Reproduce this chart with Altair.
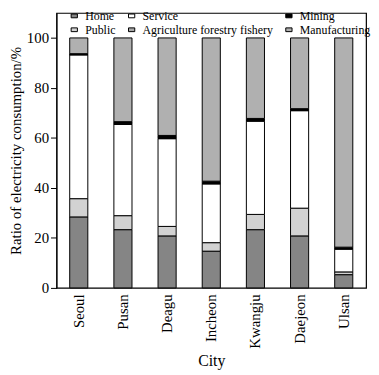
import altair as alt
import pandas as pd

cities = ["Seoul", "Pusan", "Deagu", "Incheon", "Kwangju", "Daejeon", "Ulsan"]
sectors = ["Home", "Public", "Service", "Agriculture forestry fishery", "Mining", "Manufacturing"]

home = [28.4, 23.3, 20.8, 14.7, 23.3, 20.8, 5.3]
public = [7.3, 5.6, 3.8, 3.4, 6.1, 11.1, 1.1]
service = [57.5, 36.5, 35.1, 23.5, 37.3, 39.0, 9.1]
agriculture = [0.2, 0.2, 0.2, 0.2, 0.2, 0.2, 0.2]
mining = [0.3, 0.9, 1.1, 0.9, 0.9, 0.6, 0.6]
manufacturing = [6.3, 33.5, 39.0, 57.3, 32.2, 28.3, 83.7]

series = [home, public, service, agriculture, mining, manufacturing]
fills = ["#858585", "#d2d2d2", "#ffffff", "#a8a8a8", "#000000", "#b0b0b0"]

rows = []
for si, (name, vals) in enumerate(zip(sectors, series)):
    for c, v in zip(cities, vals):
        rows.append({"City": c, "Sector": name, "Value": v, "order": si})
df = pd.DataFrame(rows)

font = "Liberation Serif"

chart = alt.Chart(df).mark_bar(stroke="black", strokeWidth=1).encode(
    x=alt.X("City:N", sort=cities, title="City",
            scale=alt.Scale(paddingInner=0.59, paddingOuter=0.3),
            axis=alt.Axis(labelAngle=270, ticks=False, domain=False,
                          labelFontSize=15, titleFontSize=16, labelFont=font,
                          titleFont=font, labelColor="black", titleColor="black",
                          titleFontWeight="normal", labelPadding=6, titlePadding=4)),
    y=alt.Y("Value:Q", stack="zero", title="Ratio of electricity consumption/%",
            scale=alt.Scale(domain=[0, 110], nice=False),
            axis=alt.Axis(values=[0, 20, 40, 60, 80, 100], grid=False,
                          labelFontSize=15, titleFontSize=15, labelFont=font,
                          titleFont=font, labelColor="black", titleColor="black",
                          titleFontWeight="normal", tickColor="black",
                          domainColor="black", tickSize=6, titlePadding=3,
                          labelPadding=2)),
    color=alt.Color("Sector:N",
                    scale=alt.Scale(domain=sectors, range=fills),
                    legend=alt.Legend(title=None, orient="none", legendX=12, legendY=-3,
                                      columns=3, columnPadding=10, rowPadding=2,
                                      symbolType="M-1,-0.6L1,-0.6L1,0.6L-1,0.6Z",
                                      symbolSize=40,
                                      symbolStrokeColor="black", symbolStrokeWidth=1,
                                      labelFont=font, labelFontSize=12,
                                      labelColor="black", labelOffset=5,
                                      symbolOpacity=1)),
    order=alt.Order("order:Q", sort="ascending"),
).properties(width=313, height=278, padding=0).configure_view(stroke="black", strokeWidth=1.2)

chart.save("out.html", embed_options={"renderer": "svg", "actions": False})
